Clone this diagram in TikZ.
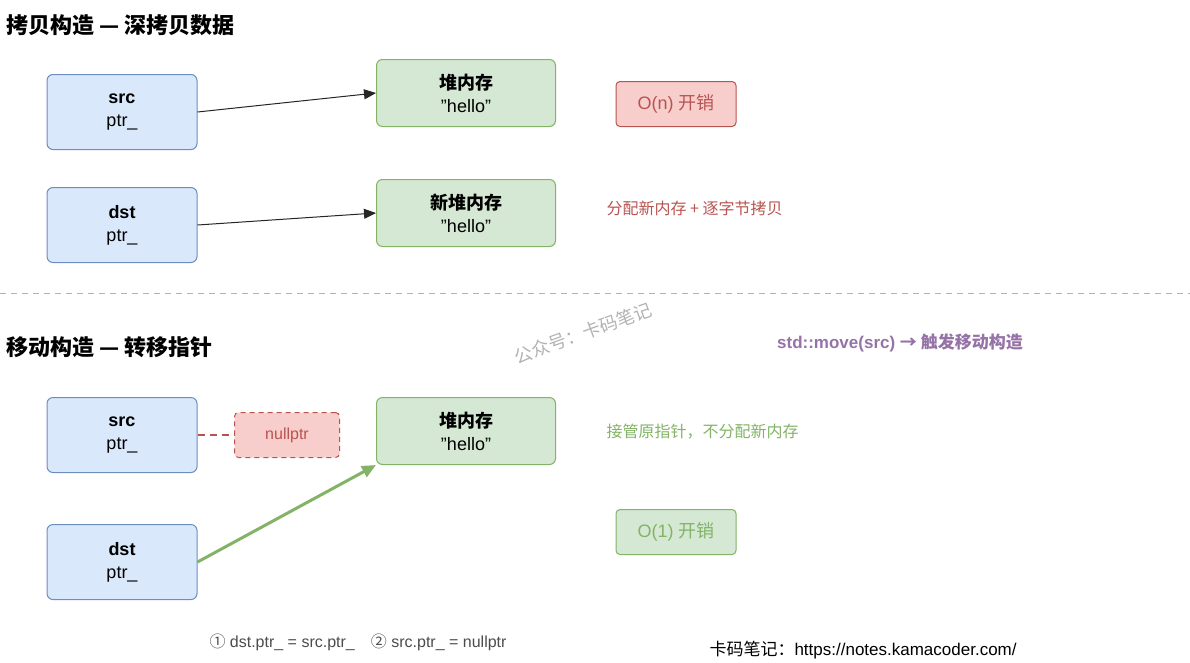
\documentclass[tikz,border=0pt]{standalone}
\usepackage{fontspec}
\setmainfont{Liberation Sans}
\newfontfamily\cjk{Noto Sans CJK SC}
\usetikzlibrary{arrows.meta}
\definecolor{bfill}{HTML}{DAE8FC}\definecolor{bline}{HTML}{6C8EBF}
\definecolor{gfill}{HTML}{D5E8D4}\definecolor{gline}{HTML}{82B366}
\definecolor{rfill}{HTML}{F8CECC}\definecolor{rline}{HTML}{B85450}
\definecolor{purp}{HTML}{9673A6}
\newcommand{\hq}{\symbol{34}hello\symbol{34}}
\begin{document}
\begin{tikzpicture}[x=1pt,y=-1pt,
 box/.style={draw,rounded corners=6pt,line width=1pt,align=center,inner sep=0pt,font=\fontsize{18}{23}\selectfont},
 blue/.style={box,fill=bfill,draw=bline,minimum width=150pt,minimum height=75pt},
 green/.style={box,fill=gfill,draw=gline,minimum width=179pt,minimum height=67pt},
 cost/.style={box,minimum width=120pt,minimum height=45pt,rounded corners=4pt},
 ttl/.style={anchor=west,font=\fontsize{22}{24}\selectfont\cjk\bfseries},
 arr/.style={-{Triangle[length=12pt,width=10pt]},line width=1pt,draw=black!85}]
\useasboundingbox (0,0) rectangle (1190,662);
\node[ttl] (t1) at (3,25) {拷贝构造 — 深拷贝数据};
\node[blue] (s1) at (122,112) {\textbf{src}\\ptr\_};
\node[blue] (d1) at (122,225) {\textbf{dst}\\ptr\_};
\node[green] (h1) at (466,93) {{\cjk\bfseries 堆内存}\\\hq};
\node[green] (h2) at (466,213) {{\cjk\bfseries 新堆内存}\\\hq};
\node[cost,fill=rfill,draw=rline,text=rline] (c1) at (676,104) {O(n) {\cjk 开销}};
\node[anchor=west,text=rline,font=\fontsize{16}{18}\selectfont\cjk] (n1) at (603,208) {分配新内存 + 逐字节拷贝};
\draw[arr] (s1.east) -- (h1.west);
\draw[arr] (d1.east) -- (h2.west);
\coordinate (dl) at (0,293); \coordinate (dr) at (1190,293);
\draw[gray!60,line width=1pt,dash pattern=on 6pt off 5pt] (dl) -- (dr);
\node[ttl] (t2) at (3,347) {移动构造 — 转移指针};
\node[rotate=20,text=gray!60,font=\fontsize{18}{20}\selectfont\cjk] (wm) at (583,333) {公众号：卡码笔记};
\node[text=purp,font=\fontsize{17}{20}\selectfont\bfseries] (mv) at (900,343) {std::move(src) {\cjk → 触发移动构造}};
\node[blue] (s2) at (122,435) {\textbf{src}\\ptr\_};
\node[blue] (d2) at (122,562) {\textbf{dst}\\ptr\_};
\node[box,fill=rfill,draw=rline,dash pattern=on 5pt off 4pt,text=rline,minimum width=105pt,minimum height=45pt,rounded corners=4pt,font=\fontsize{16}{18}\selectfont] (np) at (287,435) {nullptr};
\draw[rline,line width=1.3pt,dash pattern=on 7pt off 5pt] (s2.east) -- (np.west);
\node[green] (h3) at (466,431) {{\cjk\bfseries 堆内存}\\\hq};
\draw[-{Triangle[length=14pt,width=12pt]},line width=3pt,draw=gline] (d2.east) -- (h3.south west);
\node[anchor=west,text=gline,font=\fontsize{16}{18}\selectfont\cjk] (n2) at (603,432) {接管原指针，不分配新内存};
\node[cost,fill=gfill,draw=gline,text=gline] (c2) at (676,532) {O(1) {\cjk 开销}};
\node[text=black!70,font=\fontsize{16}{18}\selectfont] (st) at (358,642) {{\cjk ①} dst.ptr\_ = src.ptr\_\quad {\cjk ②} src.ptr\_ = nullptr};
\node[anchor=west,font=\fontsize{17}{20}\selectfont] (ft) at (706,650) {{\cjk 卡码笔记：}https://notes.kamacoder.com/};
\end{tikzpicture}
\end{document}
